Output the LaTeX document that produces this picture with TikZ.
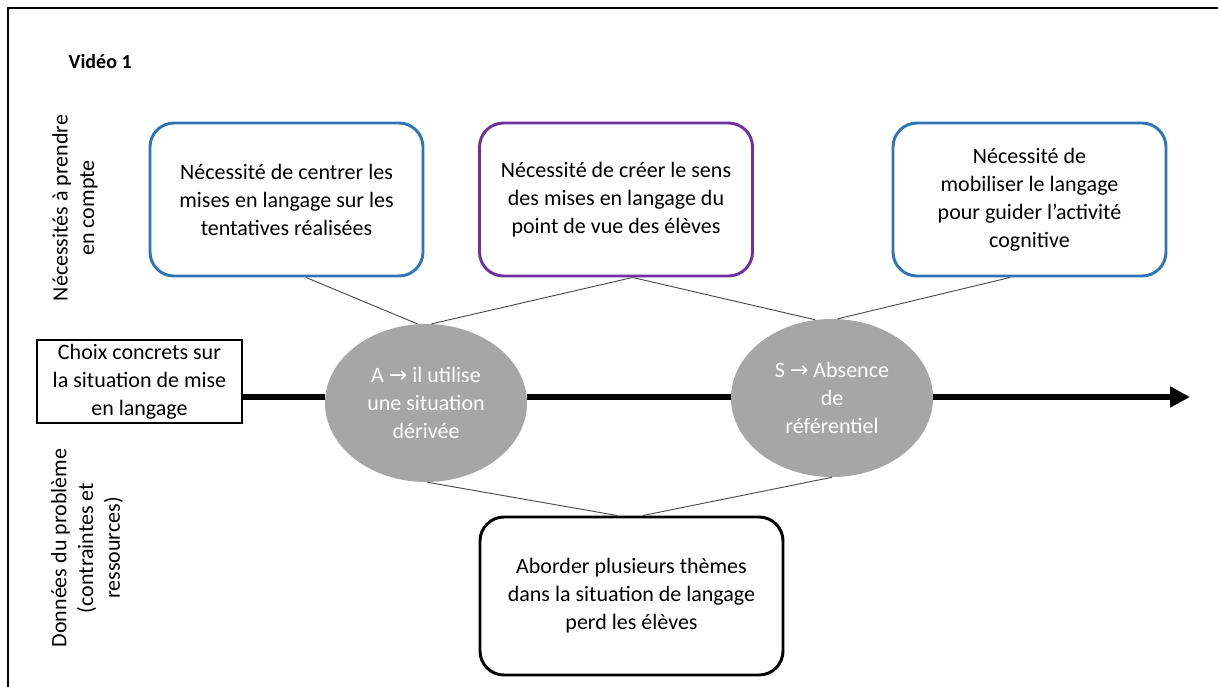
\documentclass[tikz,border=0pt]{standalone}
\usepackage{fontspec}
\setmainfont{Carlito}
\newfontfamily\symfont{DejaVu Sans}
\usetikzlibrary{shapes.geometric, arrows.meta}

\definecolor{besoinbleu}{RGB}{46,117,182}
\definecolor{besoinviolet}{RGB}{112,48,160}
\definecolor{ovalegris}{RGB}{166,166,166}

\begin{document}
\begin{tikzpicture}[
    x=0.75pt, y=-0.75pt,
    >=Triangle,
    besoin/.style={draw, line width=2.2pt, rounded corners=18pt, align=center, minimum width=204.75pt, minimum height=114.75pt, inner sep=0pt, font=\fontsize{16.5}{21}\selectfont},
    choix/.style={draw, line width=0.8pt, align=center, minimum width=153.75pt, minimum height=62.25pt, inner sep=0pt, font=\fontsize{16.5}{21}\selectfont},
    ovale/.style={ellipse, fill=ovalegris, text=white, align=center, minimum width=151.5pt, minimum height=118.5pt, inner sep=0pt, font=\fontsize{16.5}{21}\selectfont},
    axe/.style={rotate=90, align=center, font=\fontsize{16.5}{20}\selectfont},
    lien/.style={draw=black!70, line width=0.7pt},
    fleche/.style={line width=4.5pt}
]
\useasboundingbox (0,0) rectangle (1218,686);

% Frame
\draw[line width=1.5pt] (8,700) -- (8,8) -- (1230,8);

\node[font=\fontsize{15}{18}\selectfont\bfseries, anchor=west] (titre) at (64,62) {Vidéo 1};

% Axis labels
\node[axe] (necess) at (75,208) {Nécessités à prendre\\en compte};
\node[axe] (donnees) at (87,548) {Données du problème\\(contraintes et\\ressources)};

% Necessities
\node[besoin, draw=besoinbleu] (centrer) at (286.5,199.5) {Nécessité de centrer les\\mises en langage sur les\\tentatives réalisées};
\node[besoin, draw=besoinviolet] (creer) at (616,199.5) {Nécessité de créer le sens\\des mises en langage du\\point de vue des élèves};
\node[besoin, draw=besoinbleu] (mobiliser) at (1029.5,199.5) {Nécessité de\\mobiliser le langage\\pour guider l’activité\\cognitive};

% Concrete choices
\node[choix] (choix) at (139.5,381.5) {Choix concrets sur\\la situation de mise\\en langage};
\node[ovale] (sitA) at (426,403) {A {\symfont →} il utilise\\une situation\\dérivée};
\node[ovale] (sitS) at (832,398) {S {\symfont →} Absence\\de\\référentiel};
\coordinate (fin) at (1190,397);

\draw[fleche] (choix.east |- fin) -- (sitA.west |- fin);
\draw[fleche] (sitA.east |- fin) -- (sitS.west |- fin);
\draw[fleche, -{Triangle[length=15pt,width=15pt]}] (sitS.east |- fin) -- (fin);

% Problem data
\node[besoin, draw=black, minimum width=227.25pt, minimum height=118.5pt] (aborder) at (631.5,596) {Aborder plusieurs thèmes\\dans la situation de langage\\perd les élèves};

% Links
\draw[lien] (centrer.284) -- (sitA.96);
\draw[lien] (creer.282) -- (sitA.86);
\draw[lien] (creer.282) -- (sitS.102);
\draw[lien] (mobiliser.256) -- (sitS.86);
\draw[lien] (sitA.271) -- (aborder.100);
\draw[lien] (sitS.270) -- (aborder.82);

\end{tikzpicture}
\end{document}
